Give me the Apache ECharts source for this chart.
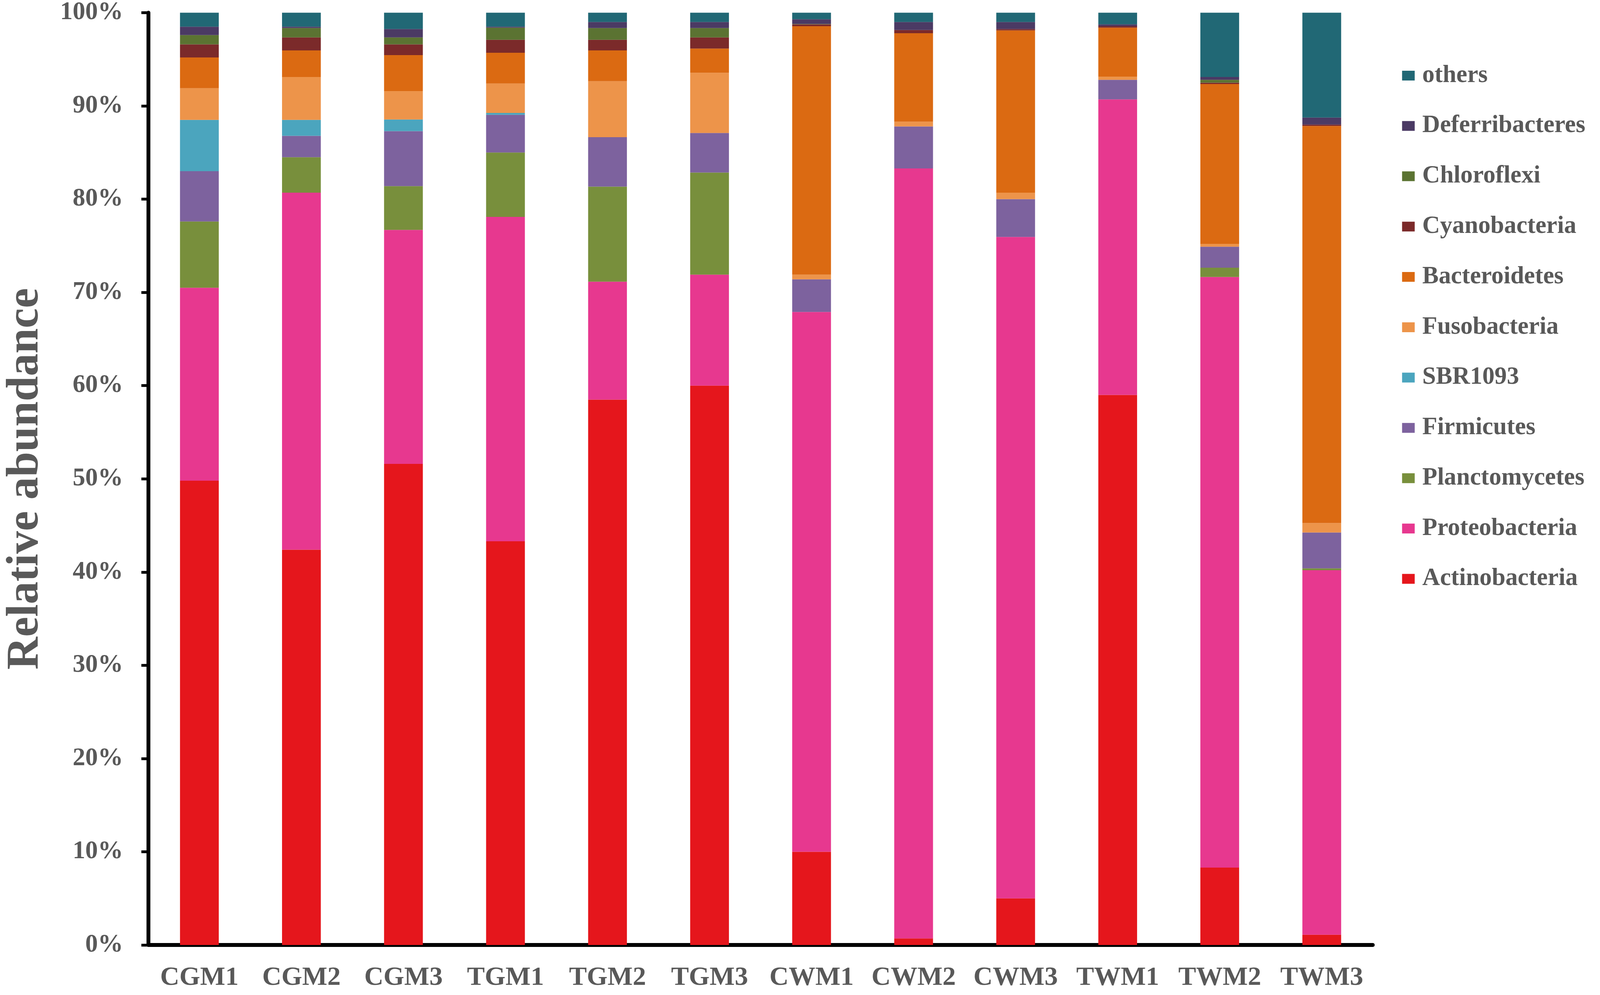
<!DOCTYPE html>
<html>
<head>
<meta charset="utf-8">
<title>Relative abundance</title>
<script src="https://cdn.jsdelivr.net/npm/echarts@6/dist/echarts.min.js"></script>
<style>
    html, body { margin: 0; padding: 0; background: #fff; overflow: hidden; }
    #main { width: 100vw; height: 100vh; }
</style>
</head>
<body>
<div id="main"></div>
<script>
// 样品
var samples = ['CGM1', 'CGM2', 'CGM3', 'TGM1', 'TGM2', 'TGM3', 'CWM1', 'CWM2', 'CWM3', 'TWM1', 'TWM2', 'TWM3'];

// 各门相对丰度 (%)，按堆叠顺序从下到上
var actinobacteria = [49.8, 42.4, 51.6, 43.3, 58.5, 60.0, 10.0, 0.7, 5.0, 59.0, 8.3, 1.1];
var proteobacteria = [20.7, 38.3, 25.1, 34.8, 12.65, 11.9, 57.9, 82.6, 70.95, 31.7, 63.35, 39.1];
var planctomycetes = [7.1, 3.8, 4.7, 6.9, 10.2, 10.95, 0, 0, 0, 0, 1.0, 0.2];
var firmicutes = [5.4, 2.3, 5.9, 4.05, 5.3, 4.25, 3.5, 4.5, 4.05, 2.1, 2.25, 3.85];
var sbr1093 = [5.5, 1.7, 1.25, 0.2, 0, 0, 0, 0, 0, 0, 0, 0];
var fusobacteria = [3.4, 4.6, 3.05, 3.15, 6.0, 6.45, 0.5, 0.5, 0.7, 0.35, 0.3, 1.0];
var bacteroidetes = [3.3, 2.85, 3.85, 3.3, 3.3, 2.6, 26.65, 9.5, 17.4, 5.25, 17.15, 42.6];
var cyanobacteria = [1.4, 1.4, 1.15, 1.4, 1.15, 1.2, 0.2, 0.35, 0.15, 0.15, 0.15, 0.15];
var chloroflexi = [1.0, 1.0, 0.75, 1.3, 1.25, 1.0, 0.05, 0, 0, 0, 0.3, 0];
var deferribacteres = [0.9, 0.15, 0.9, 0.1, 0.65, 0.65, 0.5, 0.85, 0.75, 0.2, 0.3, 0.75];
var others = [1.5, 1.5, 1.75, 1.5, 1.0, 1.0, 0.7, 1.0, 1.0, 1.25, 6.9, 11.25];

// y轴刻度
var yTicks = [0, 10, 20, 30, 40, 50, 60, 70, 80, 90, 100];

var layers = [
    { name: 'Actinobacteria', data: actinobacteria, color: '#e5161c' },
    { name: 'Proteobacteria', data: proteobacteria, color: '#e7388f' },
    { name: 'Planctomycetes', data: planctomycetes, color: '#788f3c' },
    { name: 'Firmicutes', data: firmicutes, color: '#7d629e' },
    { name: 'SBR1093', data: sbr1093, color: '#4ba5be' },
    { name: 'Fusobacteria', data: fusobacteria, color: '#ed944a' },
    { name: 'Bacteroidetes', data: bacteroidetes, color: '#db6a12' },
    { name: 'Cyanobacteria', data: cyanobacteria, color: '#7b2a2a' },
    { name: 'Chloroflexi', data: chloroflexi, color: '#5b7332' },
    { name: 'Deferribacteres', data: deferribacteres, color: '#4b3a64' },
    { name: 'others', data: others, color: '#216875' }
];

var font = 'Liberation Serif';
var textColor = '#595959';

var dom = document.getElementById('main');
var chart = echarts.init(dom);

// 按实际窗口大小缩放 (设计尺寸 4563 x 2546)
var sx = dom.clientWidth / 4563;
var sy = dom.clientHeight / 2546;
var s = Math.min(sx, sy);
function px(v) { return v * sx; }
function py(v) { return v * sy; }
function ps(v) { return v * s; }

var series = layers.map(function (l) {
    return {
        name: l.name,
        type: 'bar',
        stack: 'total',
        barWidth: '38%',
        data: l.data,
        itemStyle: { color: l.color },
        emphasis: { disabled: true }
    };
});

// 图例从上到下是 others ... Actinobacteria
var legendNames = layers.map(function (l) { return l.name; }).reverse();

var option = {
    animation: false,
    backgroundColor: '#fff',
    grid: {
        left: px(389),
        right: px(648),
        top: py(32),
        bottom: py(128),
        containLabel: false
    },
    legend: {
        orient: 'vertical',
        left: px(3993),
        top: py(157),
        data: legendNames,
        icon: 'rect',
        itemWidth: ps(36),
        itemHeight: ps(28),
        itemGap: py(128.6) - ps(70),
        selectedMode: false,
        textStyle: {
            fontFamily: font,
            fontWeight: 'bold',
            fontSize: ps(70),
            lineHeight: ps(70),
            color: textColor,
            padding: [0, 0, 0, ps(16)]
        }
    },
    xAxis: {
        type: 'category',
        data: samples,
        axisLine: { lineStyle: { color: '#000', width: ps(11) } },
        axisTick: { length: py(20), lineStyle: { color: '#000', width: ps(6) } },
        axisLabel: {
            interval: 0,
            margin: py(50),
            fontFamily: font,
            fontWeight: 'bold',
            fontSize: ps(76),
            color: textColor
        }
    },
    yAxis: {
        type: 'value',
        min: yTicks[0],
        max: yTicks[yTicks.length - 1],
        interval: yTicks[1] - yTicks[0],
        name: 'Relative abundance',
        nameLocation: 'middle',
        nameGap: px(285),
        nameTextStyle: {
            fontFamily: font,
            fontWeight: 'bold',
            fontSize: py(116),
            color: textColor
        },
        axisLine: { show: true, lineStyle: { color: '#000', width: ps(11) } },
        axisTick: { show: true, length: px(20), lineStyle: { color: '#000', width: ps(8) } },
        splitLine: { show: false },
        axisLabel: {
            margin: px(72),
            formatter: '{value}%',
            fontFamily: font,
            fontWeight: 'bold',
            fontSize: ps(72),
            color: textColor
        }
    },
    series: series
};

chart.setOption(option);
</script>
</body>
</html>
